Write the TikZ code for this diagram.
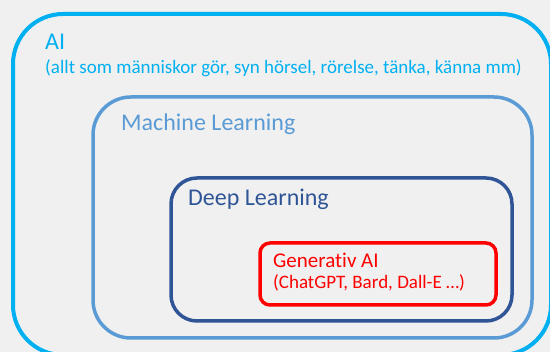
\documentclass[tikz,border=0pt]{standalone}
\usepackage{fontspec}
\setmainfont{Carlito}[Ligatures=NoCommon]
\definecolor{bakgrund}{HTML}{F0F0F0}
\definecolor{aiblue}{HTML}{00B0F0}
\definecolor{mlblue}{HTML}{5B9BD5}
\definecolor{dlblue}{HTML}{2F5597}
\definecolor{genred}{HTML}{FF0000}
\tikzset{
  etikett/.style={anchor=base west, inner sep=0pt},
  stor/.style={font=\fontsize{24}{28}\selectfont},
  liten/.style={font=\fontsize{19}{23}\selectfont}
}
\begin{document}
\begin{tikzpicture}[x=1pt,y=-1pt]
  \useasboundingbox (0,0) rectangle (550,352);
  \fill[bakgrund] (0,0) rectangle (550,352);
  \begin{scope}
    \clip (0,0) rectangle (550,352); % 外側の枠は画像の端ではみ出す
    \draw[aiblue, line width=4pt, rounded corners=50pt] (13,14) rectangle (551,355);
  \end{scope}
  \draw[mlblue, line width=3.5pt, rounded corners=38pt] (93,97) rectangle (532,338);
  \draw[dlblue, line width=3.5pt, rounded corners=26pt] (171,178) rectangle (512,321);
  \draw[genred, line width=3.5pt, rounded corners=10pt] (260,243) rectangle (496,305);
  \node[etikett, stor, text=aiblue] (ai) at (45,50) {AI};
  \node[etikett, liten, text=aiblue] (aitext) at (45,74) {(allt som människor gör, syn hörsel, rörelse, tänka, känna mm)};
  \node[etikett, stor, text=mlblue] (ml) at (121,131) {Machine Learning};
  \node[etikett, stor, text=dlblue] (dl) at (188,206) {Deep Learning};
  \node[etikett, font=\fontsize{21}{25}\selectfont, text=genred] (gen) at (273,268) {Generativ AI};
  \node[etikett, liten, text=genred] (gentext) at (273,289) {(ChatGPT, Bard, Dall-E …)};
\end{tikzpicture}
\end{document}
